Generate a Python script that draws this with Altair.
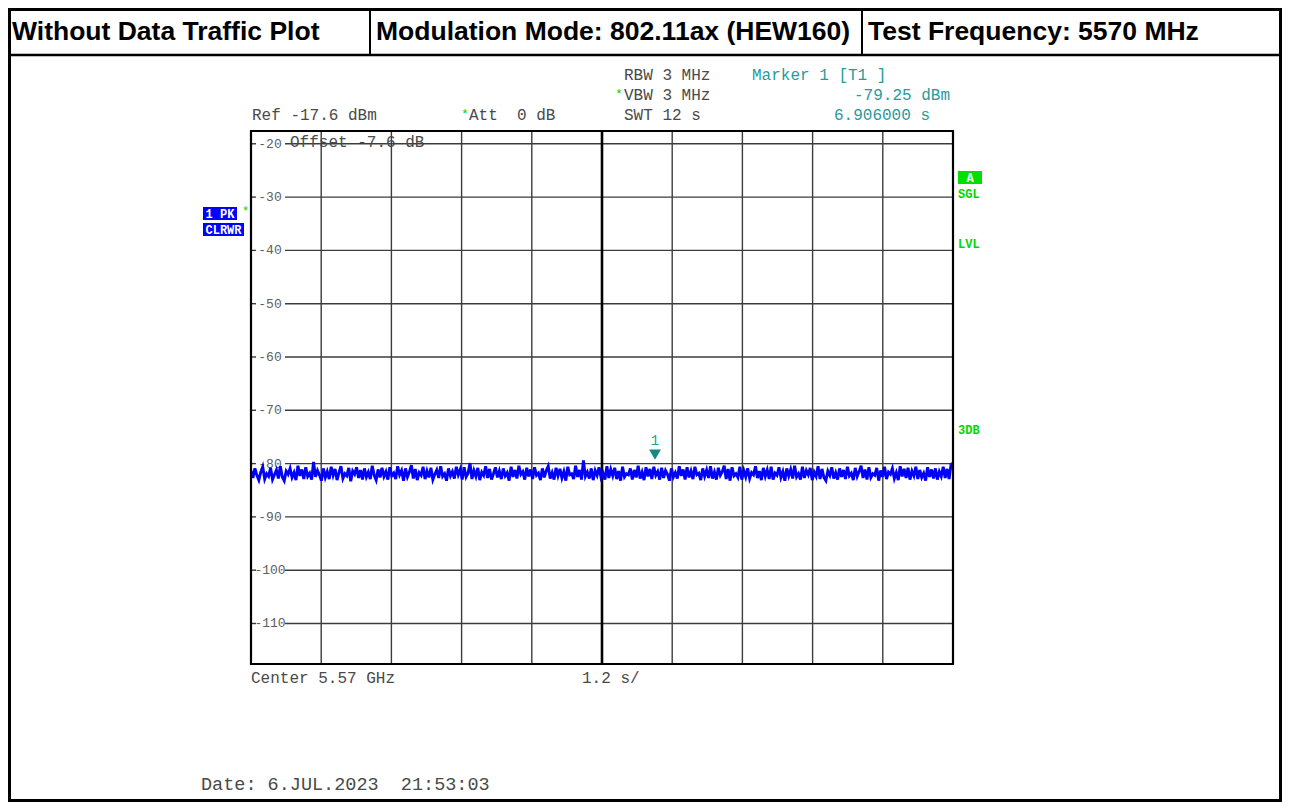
import altair as alt
import numpy as np
import pandas as pd

# ---------------- data ----------------
trace_db = [
    -81.3, -82.7, -80.9, -82.2, -83.1, -81.6, -80.6, -82.9, -81.9, -82.4,
    -80.8, -83.0, -82.1, -81.2, -82.8, -80.5, -82.5, -83.2, -81.4, -82.0,
    -80.9, -82.6, -81.7, -83.1, -80.4, -82.3, -81.1, -82.9, -80.7, -82.4,
    -81.8, -83.0, -79.7, -82.5, -81.3, -82.1, -83.2, -80.9, -82.6, -81.5,
    -82.9, -80.6, -82.2, -81.0, -83.1, -81.7, -80.5, -82.8, -81.9, -82.3,
    -80.8, -83.3, -81.4, -82.0, -80.7, -82.7, -81.2, -83.0, -80.9, -82.5,
    -81.6, -82.9, -80.4, -82.2, -83.1, -81.1, -82.6, -80.8, -82.4, -81.5,
    -83.0, -80.7, -82.3, -81.8, -82.9, -80.5, -82.1, -81.3, -83.2, -80.9,
    -82.5, -81.6, -80.3, -82.8, -81.0, -83.1, -81.7, -82.2, -80.6, -82.9,
    -81.4, -82.6, -80.8, -83.0, -82.0, -81.2, -82.7, -80.5, -82.4, -81.9,
    -83.2, -80.9, -82.3, -81.5, -82.8, -80.6, -82.1, -81.1, -83.0, -80.7,
    -82.5, -81.8, -79.9, -82.9, -81.3, -82.4, -80.8, -83.1, -81.6, -82.2,
    -80.5, -82.7, -81.0, -83.0, -81.9, -80.7, -82.6, -81.4, -82.9, -80.9,
    -82.3, -81.7, -83.2, -80.6, -82.5, -81.2, -82.8, -80.4, -82.0, -81.5,
    -83.0, -80.8, -82.4, -81.1, -82.9, -80.7, -82.2, -81.8, -83.1, -80.9,
    -82.6, -81.3, -80.5, -82.8, -81.7, -83.0, -80.8, -82.3, -81.0, -82.7,
    -81.5, -83.2, -80.6, -82.1, -81.9, -82.9, -80.4, -82.5, -81.2, -83.0,
    -79.4, -82.4, -81.6, -82.8, -80.9, -83.1, -81.3, -82.2, -80.7, -82.6,
    -81.8, -83.0, -80.5, -82.7, -81.1, -82.3, -80.8, -82.9, -81.4, -83.2,
    -80.6, -82.5, -81.9, -82.1, -80.9, -83.0, -81.2, -82.6, -80.4, -82.8,
    -81.6, -83.1, -80.7, -82.4, -81.0, -82.9, -80.6, -82.2, -81.5, -83.0,
    -80.8, -82.7, -81.3, -82.0, -83.2, -80.9, -82.5, -81.7, -82.8, -80.5,
    -82.3, -81.1, -83.0, -80.7, -82.6, -81.4, -82.9, -80.6, -82.1, -81.8,
    -83.1, -80.9, -82.4, -81.2, -82.7, -80.5, -82.8, -81.6, -83.0, -80.8,
    -82.2, -81.5, -80.4, -82.9, -81.0, -83.2, -80.7, -82.3, -81.9, -82.6,
    -80.6, -83.0, -81.3, -82.5, -80.9, -82.8, -81.7, -82.1, -80.5, -82.7,
    -81.4, -83.1, -80.8, -82.4, -81.2, -82.9, -80.6, -83.0, -81.8, -82.2,
    -80.7, -82.6, -81.5, -83.2, -80.9, -82.3, -81.1, -82.8, -80.4, -82.5,
    -81.9, -83.0, -80.6, -82.7, -81.3, -82.1, -80.8, -83.1, -81.6, -82.4,
    -80.5, -82.9, -81.0, -82.6, -83.2, -81.4, -82.2, -80.7, -82.8, -81.7,
    -83.0, -80.9, -82.5, -81.2, -82.9, -80.6, -82.3, -81.8, -83.1, -80.8,
    -82.4, -81.5, -80.4, -82.7, -81.1, -83.0, -80.7, -82.6, -81.9, -82.2,
    -80.8, -83.2, -81.3, -82.5, -80.6, -82.9, -81.6, -82.0, -80.9, -82.8,
    -81.7, -83.1, -80.5, -82.4, -81.0, -82.7, -80.8, -83.0, -81.4, -82.3,
    -80.6, -82.9, -81.2, -82.6, -81.8, -83.2, -80.7, -82.5, -81.1, -82.8,
    -80.9, -83.0, -81.5, -82.4, -80.6, -82.7, -81.0, -82.9, -80.2, -79.9,
]
sweep_time_s = 12.0
grid_time = [1.2, 2.4, 3.6, 4.8, 7.2, 8.4, 9.6, 10.8]
center_time = [6.0]
grid_db = [-20, -30, -40, -50, -60, -70, -80, -90, -100, -110]
grid_labels = ["-20", "-30", "-40", "-50", "-60", "-70", "-80", "-90", "-100", "-110"]
marker_time = [6.906]
marker_db = [-79.25]
ref_level = -17.6
range_db = 100.0

# ---------------- setup ----------------
W, H = 702, 533
MONO = "Liberation Mono"
SANS = "Liberation Sans"
TEAL = "#2a9a9a"
GREEN = "#00d800"
BLUE = "#0000ff"
GRID = "#3c3c3c"
TXT = "#4a4a4a"
NB = "\u00a0"

xs = alt.Scale(domain=[0, sweep_time_s], nice=False, zero=False)
ys = alt.Scale(domain=[ref_level - range_db, ref_level], nice=False, zero=False)

ONE = alt.InlineData(values=[{"k": 0}])

trace_df = pd.DataFrame({
    "t": np.linspace(0, sweep_time_s, len(trace_db)),
    "db": trace_db,
})
vgrid_df = pd.DataFrame({"t": grid_time})
center_df = pd.DataFrame({"t": center_time})
hgrid_df = pd.DataFrame({"db": grid_db, "lab": grid_labels})
marker_df = pd.DataFrame({"t": marker_time, "db": marker_db})


def txt(s, x, y, color=TXT, size=16, align="left", font=MONO, weight="normal"):
    return alt.Chart(ONE).mark_text(
        text=s, align=align, baseline="middle", font=font, fontSize=size,
        fontWeight=weight, color=color,
    ).encode(x=alt.value(x), y=alt.value(y))


def box(x1, x2, y1, y2, fill="transparent", stroke="black", sw=0, fo=1.0):
    return alt.Chart(ONE).mark_rect(
        fill=fill, fillOpacity=fo, stroke=stroke, strokeWidth=sw,
    ).encode(x=alt.value(x1), x2=alt.value(x2), y=alt.value(y1), y2=alt.value(y2))


def hline(x1, x2, y, sw=2, color="black"):
    return alt.Chart(ONE).mark_rule(color=color, strokeWidth=sw).encode(
        x=alt.value(x1), x2=alt.value(x2), y=alt.value(y))


def vline(x, y1, y2, sw=2, color="black"):
    return alt.Chart(ONE).mark_rule(color=color, strokeWidth=sw).encode(
        x=alt.value(x), y=alt.value(y1), y2=alt.value(y2))


layers = []

# outer page frame and header
layers.append(box(-241.5, 1029.5, -121.5, 669.5, stroke="black", sw=3, fo=0))
layers.append(hline(-243, 1031, -76, sw=2.5))
layers.append(vline(119, -122, -76, sw=2))
layers.append(vline(611, -122, -76, sw=2))
layers.append(txt("Without Data Traffic Plot", -239, -99, color="black", size=26.5, font=SANS, weight="bold"))
layers.append(txt("Modulation Mode: 802.11ax (HEW160)", 125, -99, color="black", size=26.5, font=SANS, weight="bold"))
layers.append(txt("Test Frequency: 5570 MHz", 617, -99, color="black", size=26.5, font=SANS, weight="bold"))

# grid
layers.append(alt.Chart(vgrid_df).mark_rule(color=GRID, strokeWidth=1.4).encode(
    x=alt.X("t:Q", scale=xs, axis=None), y=alt.value(0), y2=alt.value(H)))
layers.append(alt.Chart(hgrid_df).mark_rule(color=GRID, strokeWidth=1.4).encode(
    y=alt.Y("db:Q", scale=ys, axis=None), x=alt.value(34), x2=alt.value(W)))
layers.append(alt.Chart(hgrid_df).mark_rule(color=GRID, strokeWidth=1.4).encode(
    y=alt.Y("db:Q", scale=ys, axis=None), x=alt.value(0), x2=alt.value(5)))
layers.append(alt.Chart(hgrid_df).mark_text(
    align="center", baseline="middle", font=MONO, fontSize=13, color="#606060",
).encode(y=alt.Y("db:Q", scale=ys, axis=None), x=alt.value(19), text="lab:N"))
layers.append(alt.Chart(center_df).mark_rule(color="black", strokeWidth=2.6).encode(
    x=alt.X("t:Q", scale=xs, axis=None), y=alt.value(0), y2=alt.value(H)))

# trace
layers.append(alt.Chart(trace_df).mark_line(color=BLUE, strokeWidth=2.9, clip=True).encode(
    x=alt.X("t:Q", scale=xs, axis=None), y=alt.Y("db:Q", scale=ys, axis=None)))

# plot frame
layers.append(box(0, W, 0, H, stroke="black", sw=2.2, fo=0))

# marker
layers.append(alt.Chart(marker_df).mark_point(
    shape="triangle-down", filled=True, size=140, color="#128888", opacity=1, yOffset=-5,
).encode(x=alt.X("t:Q", scale=xs, axis=None), y=alt.Y("db:Q", scale=ys, axis=None)))
layers.append(alt.Chart(marker_df).mark_text(
    text="1", font=MONO, fontSize=14, color=TEAL, dy=-19, baseline="middle",
).encode(x=alt.X("t:Q", scale=xs, axis=None), y=alt.Y("db:Q", scale=ys, axis=None)))

# instrument annotations
layers.append(txt("RBW 3 MHz", 373, -56))
layers.append(txt("Marker 1 [T1 ]", 501, -56, color=TEAL))
layers.append(txt("*", 364, -37, color=GREEN, size=13))
layers.append(txt("VBW 3 MHz", 373, -36))
layers.append(txt("-79.25 dBm", 699, -36, color=TEAL, align="right"))
layers.append(txt("Ref -17.6 dBm", 1, -16))
layers.append(txt("*", 210, -17, color=GREEN, size=13))
layers.append(txt("Att" + NB + NB + "0 dB", 218, -16))
layers.append(txt("SWT 12 s", 373, -16))
layers.append(txt("6.906000 s", 679, -16, color=TEAL, align="right"))
layers.append(txt("Offset -7.6 dB", 39, 11))
layers.append(txt("Center 5.57 GHz", 0, 547))
layers.append(txt("1.2 s/", 331, 547))
layers.append(txt("Date: 6.JUL.2023" + NB + NB + "21:53:03", -50, 653, size=18.5))

# left trace info boxes
layers.append(box(-48, -14, 76, 89, fill="#0000ff", stroke="#0000ff", sw=0))
layers.append(txt("1 PK", -31, 82.5, color="white", size=12, align="center", weight="bold"))
layers.append(txt("*", -9, 80, color=GREEN, size=12))
layers.append(box(-48, -7, 92, 105, fill="#0000ff", stroke="#0000ff", sw=0))
layers.append(txt("CLRWR", -27.5, 98.5, color="white", size=12, align="center", weight="bold"))

# right status labels
layers.append(box(707, 731, 40, 53, fill="#00e000", stroke="#00e000", sw=0))
layers.append(txt("A", 719, 46.5, color="white", size=12, align="center", weight="bold"))
layers.append(txt("SGL", 707, 63, color=GREEN, size=12, weight="bold"))
layers.append(txt("LVL", 707, 113, color=GREEN, size=12, weight="bold"))
layers.append(txt("3DB", 707, 299, color=GREEN, size=12, weight="bold"))

chart = alt.layer(*layers).properties(
    width=W,
    height=H,
    autosize=alt.AutoSizeParams(type="none"),
    padding={"left": 243, "top": 123, "right": 329, "bottom": 138},
    background="white",
).configure_view(stroke=None)

chart.save("out.html", embed_options={"renderer": "svg", "actions": False})
